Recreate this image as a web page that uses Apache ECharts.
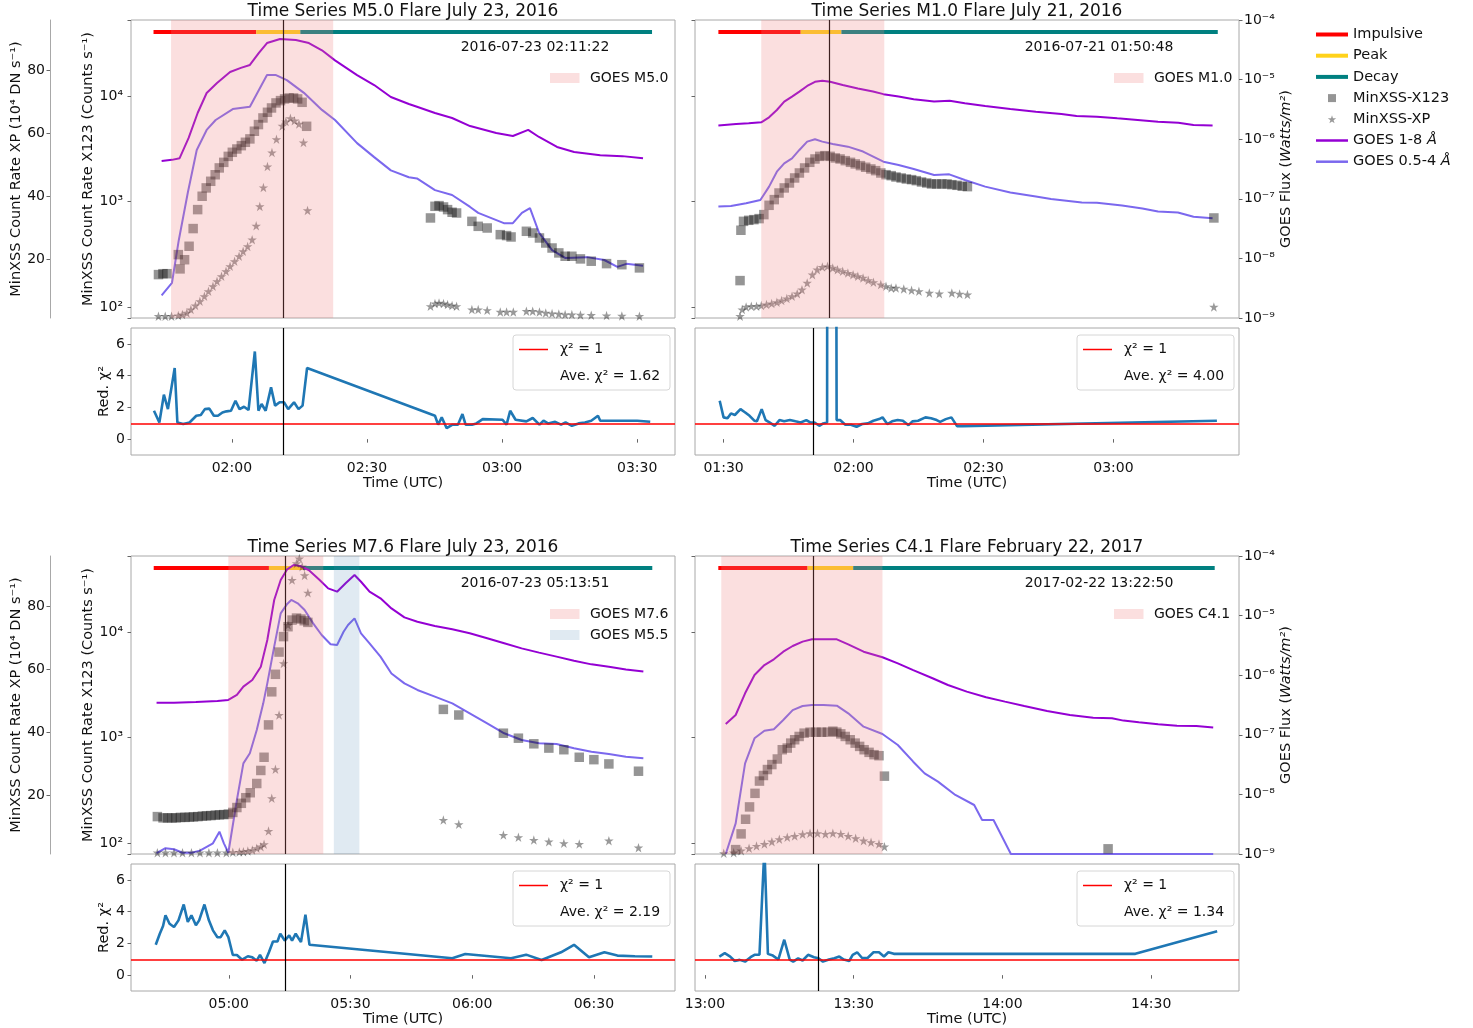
<!DOCTYPE html>
<html>
<head>
<meta charset="utf-8">
<script src="https://cdn.jsdelivr.net/npm/echarts@6/dist/echarts.min.js"></script>
<style>
  html, body { margin: 0; padding: 0; background: #fff; }
  #chart { width: 1473px; height: 1028px; }
</style>
</head>
<body>
<div id="chart"></div>
<script>
// times are minutes after 00:00 UTC of the flare day

// ---- M5.0, 2016-07-23 ----
var m50Title = 'Time Series M5.0 Flare July 23, 2016';
var m50Date = '2016-07-23 02:11:22';
var m50Ave = '1.62';
var m50Range = [97.6, 218.4];
var m50Phase = [102.6, 125.4, 135.2, 213.3];
var m50Spans = [[106.5, 142.5]];
var m50SpanLabels = ['GOES M5.0'];
var m50Peak = [131.37, 131.37];
var m50Goes18 = [[104.4,4.3e-7],[106.7,4.5e-7],[108.4,4.8e-7],[110.4,1.05e-6],[112.4,2.75e-6],[114.4,5.96e-6],[116.7,8.8e-6],[119.6,1.34e-5],[122.0,1.57e-5],[124.0,1.76e-5],[126.0,2.8e-5],[127.8,4.1e-5],[130.7,4.8e-5],[134.2,4.6e-5],[137.1,4.1e-5],[140.0,3.1e-5],[142.9,2.1e-5],[147.8,1.19e-5],[151.6,8.1e-6],[155.3,5.1e-6],[159.3,3.9e-6],[161.1,3.5e-6],[165.1,2.75e-6],[168.9,2.27e-6],[172.9,1.66e-6],[178.7,1.27e-6],[182.4,1.13e-6],[185.8,1.43e-6],[188.2,1.09e-6],[192.2,7.4e-7],[196.0,6.1e-7],[201.8,5.4e-7],[206.7,5.2e-7],[211.3,4.8e-7]];
var m50Goes054 = [[104.4,2.4e-9],[106.7,3.9e-9],[108.2,2.0e-8],[110.2,1.25e-7],[112.2,6.6e-7],[114.4,1.43e-6],[116.4,2.1e-6],[120.2,3.2e-6],[124.0,3.5e-6],[126.0,6.7e-6],[127.8,1.19e-5],[129.8,1.19e-5],[132.2,9.8e-6],[136.0,6.0e-6],[140.0,3.1e-6],[142.9,2.1e-6],[147.8,8.6e-7],[151.6,5.0e-7],[155.3,3.0e-7],[159.3,2.3e-7],[161.1,2.2e-7],[165.1,1.4e-7],[168.9,1.16e-7],[172.9,7.3e-8],[174.7,5.8e-8],[180.4,3.9e-8],[182.4,3.9e-8],[184.4,5.8e-8],[186.2,7.0e-8],[188.2,2.7e-8],[191.1,1.38e-8],[194.0,1.02e-8],[198.9,1.05e-8],[202.7,9.4e-9],[205.6,7.2e-9],[207.6,8.1e-9],[211.3,7.5e-9]];
var m50X123 = [[103.7,203],[104.7,207],[105.6,207],[108.1,314],[108.5,230],[109.5,281],[110.5,377],[111.4,555],[112.4,840],[113.4,1125],[114.3,1350],[115.3,1560],[116.3,1800],[117.2,2090],[118.2,2360],[119.2,2690],[120.1,2940],[121.1,3160],[122.1,3400],[123.0,3660],[124.0,3940],[125.0,4660],[125.9,5390],[126.9,6230],[127.9,7050],[128.8,7750],[129.8,8650],[130.8,9100],[131.7,9440],[132.7,9640],[133.7,9640],[134.6,9440],[135.6,8770],[136.6,5190],[164.1,700],[165.1,903],[166.0,917],[167.0,890],[167.9,840],[168.9,793],[169.9,780],[173.3,650],[174.7,583],[176.7,562],[179.6,486],[181.0,476],[182.0,462],[185.4,523],[186.8,504],[188.3,452],[189.7,405],[191.1,363],[192.6,326],[194.0,303],[195.5,303],[197.4,286],[199.8,272],[203.2,258],[206.6,252],[210.5,235]];
var m50XP = [[103.7,1.83],[105.2,1.83],[106.6,1.83],[108.1,2.04],[109.0,2.36],[110.0,2.89],[110.9,3.94],[111.9,5.21],[112.9,6.58],[113.9,8.17],[114.8,9.75],[115.8,11.34],[116.7,12.92],[117.7,14.51],[118.7,16.09],[119.6,17.68],[120.6,19.26],[121.6,20.85],[122.5,22.43],[123.5,24.01],[124.5,26.13],[125.4,30.56],[126.2,36.69],[127.0,42.71],[127.9,49.37],[128.9,53.8],[129.9,58.03],[131.2,62.25],[132.0,63.63],[133.0,64.68],[133.9,63.94],[134.9,62.89],[135.9,56.97],[136.8,35.42],[164.1,5.0],[165.1,5.85],[166.0,6.06],[167.0,5.85],[167.9,5.53],[168.9,5.21],[169.9,5.0],[173.3,3.94],[174.7,3.94],[176.7,3.73],[179.6,3.2],[181.0,3.2],[182.5,3.2],[185.4,3.42],[186.8,3.42],[188.3,3.2],[189.7,2.89],[191.1,2.68],[192.6,2.57],[194.0,2.36],[195.5,2.36],[197.4,2.25],[199.8,2.15],[203.2,2.04],[206.6,1.94],[210.5,1.83]];
var m50Chi2 = [[102.7,1.79],[103.9,1.05],[104.9,2.8],[105.8,1.89],[107.3,4.48],[107.9,1.05],[109.2,0.95],[110.6,1.05],[112.1,1.47],[113.1,1.52],[114.0,1.89],[115.0,1.92],[116.0,1.47],[116.9,1.47],[117.9,1.68],[118.8,1.75],[119.8,1.79],[120.8,2.42],[121.7,1.89],[122.7,2.04],[123.7,1.83],[125.1,5.52],[125.9,1.79],[126.6,2.21],[127.5,1.79],[128.7,3.26],[129.6,2.11],[130.6,2.32],[131.6,2.32],[132.5,1.89],[133.8,2.32],[134.8,1.89],[135.7,2.11],[136.7,4.48],[165.1,1.47],[165.8,0.91],[166.6,1.37],[167.7,0.69],[169.0,0.91],[170.2,0.91],[171.2,1.58],[171.9,0.91],[173.3,0.91],[174.3,0.99],[175.7,1.26],[180.1,1.22],[181.0,0.91],[181.8,1.79],[183.0,1.22],[185.4,1.12],[186.8,1.33],[188.3,0.91],[189.2,1.16],[190.2,0.99],[191.8,1.09],[193.1,0.91],[194.1,1.05],[195.5,0.84],[197.0,0.99],[198.4,1.05],[199.8,1.16],[201.3,1.47],[201.8,1.16],[207.1,1.16],[210.0,1.16],[212.9,1.09]];

// ---- M1.0, 2016-07-21 ----
var m10Title = 'Time Series M1.0 Flare July 21, 2016';
var m10Date = '2016-07-21 01:50:48';
var m10Ave = '4.00';
var m10Range = [83.4, 209.0];
var m10Phase = [88.8, 107.8, 117.2, 204.1];
var m10Spans = [[98.7, 127.1]];
var m10SpanLabels = ['GOES M1.0'];
var m10Peak = [114.5, 110.8];
var m10Goes18 = [[88.8,1.69e-6],[92.9,1.80e-6],[95.8,1.85e-6],[98.7,1.92e-6],[100.5,2.33e-6],[102.3,3.09e-6],[104.0,4.26e-6],[105.8,5.18e-6],[107.5,6.28e-6],[109.3,7.82e-6],[111.1,9.2e-6],[112.8,9.6e-6],[114.6,9.2e-6],[117.5,8.1e-6],[121.0,7.1e-6],[124.5,6.3e-6],[126.9,5.7e-6],[130.4,5.2e-6],[133.9,4.7e-6],[138.6,4.3e-6],[142.2,4.4e-6],[145.7,4.0e-6],[150.4,3.6e-6],[156.2,3.2e-6],[162.1,2.9e-6],[168.0,2.65e-6],[171.5,2.45e-6],[176.2,2.39e-6],[180.9,2.24e-6],[185.6,2.1e-6],[190.3,1.97e-6],[195.0,1.89e-6],[198.5,1.73e-6],[202.9,1.69e-6]];
var m10Goes054 = [[88.8,7.4e-8],[91.7,7.6e-8],[95.2,8.4e-8],[98.5,9.55e-8],[100.5,1.6e-7],[102.3,2.85e-7],[104.0,3.94e-7],[105.8,4.78e-7],[107.5,6.6e-7],[109.3,9.1e-7],[111.1,9.96e-7],[112.8,9.1e-7],[115.2,8.3e-7],[118.7,7.5e-7],[122.2,6.2e-7],[126.9,4.2e-7],[130.4,3.7e-7],[133.9,3.16e-7],[138.6,2.5e-7],[142.1,2.57e-7],[145.7,2.07e-7],[150.4,1.6e-7],[156.2,1.28e-7],[162.1,1.09e-7],[165.6,9.9e-8],[172.7,8.7e-8],[176.2,8.6e-8],[182.0,7.7e-8],[186.7,6.9e-8],[190.3,6.1e-8],[194.9,5.9e-8],[198.5,5.0e-8],[202.9,4.7e-8]];
var m10X123 = [[93.8,178],[94.0,535],[94.6,650],[95.8,665],[97.0,675],[98.2,690],[99.3,753],[100.5,923],[101.7,1045],[102.8,1208],[104.0,1349],[105.2,1504],[106.4,1678],[107.5,1871],[108.7,2088],[109.9,2362],[111.1,2541],[112.2,2692],[113.4,2733],[114.6,2692],[115.8,2600],[116.9,2541],[118.1,2449],[119.3,2362],[120.4,2281],[121.6,2198],[122.8,2120],[124.0,2043],[125.1,1969],[126.3,1871],[127.5,1803],[128.7,1765],[129.8,1714],[131.0,1678],[132.2,1640],[133.4,1618],[134.5,1582],[135.7,1537],[136.9,1504],[138.0,1472],[139.2,1472],[140.4,1472],[141.6,1472],[142.7,1449],[143.9,1429],[145.1,1400],[146.3,1388],[203.2,700]];
var m10XP = [[93.8,1.83],[94.3,3.94],[95.2,4.79],[96.4,5.0],[97.6,5.0],[98.7,5.21],[99.9,5.53],[101.1,5.85],[102.3,6.27],[103.4,6.8],[104.6,7.43],[105.8,8.17],[107.0,9.01],[108.1,10.28],[109.3,12.39],[110.5,15.04],[111.6,16.62],[112.8,17.46],[114.0,17.68],[115.2,17.15],[116.3,16.62],[117.5,16.09],[118.7,15.56],[119.9,15.04],[121.0,14.51],[122.2,13.98],[123.4,13.24],[124.6,12.61],[126.3,11.87],[127.5,11.34],[128.7,10.81],[129.8,10.81],[131.6,10.49],[133.4,10.07],[135.1,9.75],[137.5,9.23],[139.8,9.01],[142.7,9.23],[144.5,8.91],[146.3,8.7],[203.2,4.79]];
var m10Chi2 = [[89.1,2.42],[90.0,1.37],[90.9,1.31],[91.7,1.62],[92.6,1.52],[93.9,1.89],[95.0,1.68],[96.0,1.47],[97.1,1.16],[97.7,1.12],[98.8,1.89],[99.7,1.2],[100.6,1.05],[101.8,0.84],[102.9,1.2],[104.0,1.12],[105.3,1.2],[106.6,1.12],[107.8,1.05],[109.1,1.2],[110.0,1.05],[111.0,1.05],[112.1,0.84],[113.0,0.99],[113.9,1.05],[114.0,40],[115.8,40],[116.1,1.2],[116.9,1.2],[118.1,0.91],[119.4,0.91],[120.7,0.78],[122.0,0.95],[123.3,0.99],[124.6,1.16],[125.9,1.26],[126.7,1.37],[127.8,0.95],[128.9,1.12],[130.2,1.2],[131.4,1.16],[132.7,0.88],[133.6,1.12],[134.9,1.16],[136.6,1.37],[137.9,1.31],[139.2,1.2],[140.0,1.09],[141.3,1.26],[142.6,1.37],[143.9,0.82],[145.2,0.82],[203.9,1.16]];

// ---- M7.6, 2016-07-23 ----
var m76Title = 'Time Series M7.6 Flare July 23, 2016';
var m76Date = '2016-07-23 05:13:51';
var m76Ave = '2.19';
var m76Range = [275.9, 410.0];
var m76Phase = [281.5, 309.9, 318.3, 404.4];
var m76Spans = [[299.9, 323.3], [325.9, 332.2]];
var m76SpanLabels = ['GOES M7.6', 'GOES M5.5'];
var m76Peak = [313.85, 313.85];
var m76Goes18 = [[282.2,3.46e-7],[286.5,3.46e-7],[291.9,3.55e-7],[297.2,3.69e-7],[299.9,3.84e-7],[302.0,4.66e-7],[303.6,6.43e-7],[305.8,8.3e-7],[307.9,1.39e-6],[309.5,3.9e-6],[311.2,1.83e-5],[312.8,3.96e-5],[314.4,5.97e-5],[316.0,7.06e-5],[317.6,6.8e-5],[319.7,5.82e-5],[322.4,3.96e-5],[324.5,2.86e-5],[326.7,2.52e-5],[328.8,3.48e-5],[331.0,4.8e-5],[332.6,3.7e-5],[334.7,2.52e-5],[337.4,1.95e-5],[340.1,1.32e-5],[343.3,9.35e-6],[346.5,7.9e-6],[350.8,6.7e-6],[355.1,5.89e-6],[359.4,5.04e-6],[363.7,4.16e-6],[367.9,3.43e-6],[372.2,2.82e-6],[376.5,2.39e-6],[380.8,2.05e-6],[385.1,1.75e-6],[389.4,1.52e-6],[393.7,1.39e-6],[397.9,1.25e-6],[402.2,1.15e-6]];
var m76Goes054 = [[282.2,1.03e-9],[284.4,1.25e-9],[286.5,1.2e-9],[288.6,1.05e-9],[290.8,1.05e-9],[292.9,1.14e-9],[296.1,1.51e-9],[297.7,2.37e-9],[298.8,1.51e-9],[299.9,1.05e-9],[302.0,8.05e-9],[303.6,3.32e-8],[305.2,4.89e-8],[306.9,1.2e-7],[308.5,3.37e-7],[309.5,7.3e-7],[311.2,3.01e-6],[312.8,1.09e-5],[314.4,1.57e-5],[315.4,1.83e-5],[317.0,1.61e-5],[318.7,1.24e-5],[320.8,7.4e-6],[322.9,4.72e-6],[325.1,3.3e-6],[326.7,3.21e-6],[328.3,5.37e-6],[329.4,6.95e-6],[331.0,9.0e-6],[332.6,5.04e-6],[334.7,3.43e-6],[337.4,2.05e-6],[340.1,1.07e-6],[343.3,7.3e-7],[346.5,5.65e-7],[350.8,4.37e-7],[355.1,3.37e-7],[359.4,2.29e-7],[363.7,1.56e-7],[367.9,1.06e-7],[372.2,8.18e-8],[376.5,7.19e-8],[380.8,7.0e-8],[385.1,5.93e-8],[389.4,5.21e-8],[393.7,4.76e-8],[397.9,4.3e-8],[402.2,4.03e-8]];
var m76X123 = [[282.4,178],[283.8,173],[284.9,173],[286.0,173],[287.0,173],[288.1,175],[289.2,175],[290.3,176],[291.3,177],[292.4,178],[293.5,180],[294.5,181],[295.6,182],[296.7,184],[297.7,185],[298.8,186],[299.9,188],[301.0,195],[302.0,217],[303.1,238],[304.2,269],[305.3,300],[306.9,367],[307.9,488],[308.7,651],[309.8,1321],[310.6,2722],[311.5,3992],[312.4,6490],[313.5,9100],[314.6,11300],[315.6,13060],[316.7,13650],[317.8,13360],[318.6,12880],[319.5,12420],[352.9,1854],[356.7,1640],[367.7,1102],[371.4,988],[375.2,874],[378.9,796],[382.6,768],[386.4,651],[390.0,618],[393.7,563],[401.0,480]];
var m76XP = [[282.4,1.69],[284.4,1.69],[286.5,1.69],[288.6,1.69],[290.8,1.69],[292.9,1.69],[295.1,1.69],[297.2,1.69],[299.4,1.69],[301.0,1.8],[302.6,1.9],[303.6,2.01],[304.7,2.22],[305.8,2.54],[306.9,3.07],[307.9,3.6],[308.7,4.34],[309.8,8.57],[310.6,18.94],[311.5,28.15],[312.4,45.4],[313.5,61.8],[314.6,73.97],[315.6,88.25],[316.7,93.54],[317.4,95.1],[318.1,92.49],[318.7,89.74],[319.5,84.23],[352.9,12.06],[356.7,10.69],[367.7,7.3],[371.4,6.56],[375.2,5.71],[378.9,5.19],[382.6,4.66],[386.4,4.44],[393.7,5.5],[401.0,3.28]];
var m76Chi2 = [[282.0,1.91],[283.0,2.61],[283.8,3.09],[284.4,3.77],[285.4,3.24],[286.5,3.03],[287.6,3.45],[288.9,4.45],[289.9,3.35],[290.8,3.77],[291.9,3.14],[292.7,3.45],[294.0,4.45],[295.1,3.45],[296.1,2.82],[297.2,2.39],[298.0,2.39],[299.0,2.82],[299.9,2.39],[301.0,1.27],[302.0,1.27],[303.3,0.97],[304.7,1.19],[305.8,1.12],[306.9,0.91],[307.7,1.27],[308.8,0.76],[309.9,1.44],[310.9,2.12],[312.0,2.12],[312.7,2.61],[313.8,2.18],[314.9,2.5],[315.6,2.18],[316.5,2.61],[317.8,2.08],[318.9,3.81],[319.9,1.91],[355.1,1.06],[358.3,1.33],[369.6,1.06],[373.3,1.29],[377.1,0.95],[381.9,1.44],[385.1,1.91],[388.8,1.12],[392.6,1.44],[395.8,1.23],[400.1,1.19],[404.4,1.17]];

// ---- C4.1, 2017-02-22 ----
var c41Title = 'Time Series C4.1 Flare February 22, 2017';
var c41Date = '2017-02-22 13:22:50';
var c41Ave = '1.34';
var c41Range = [778.0, 887.7];
var c41Phase = [782.7, 800.7, 809.9, 882.8];
var c41Spans = [[783.3, 815.8]];
var c41SpanLabels = ['GOES C4.1'];
var c41Peak = [801.8, 802.83];
var c41Goes18 = [[784.2,1.52e-7],[786.2,2.15e-7],[788.1,4.97e-7],[790.0,1.01e-6],[792.0,1.48e-6],[793.9,1.85e-6],[795.8,2.48e-6],[797.7,3.09e-6],[799.7,3.66e-6],[801.6,4.0e-6],[803.9,4.0e-6],[806.6,4.0e-6],[808.9,3.3e-6],[812.0,2.48e-6],[815.8,2.0e-6],[818.9,1.58e-6],[822.0,1.22e-6],[825.9,8.9e-7],[829.0,6.85e-7],[832.8,5.3e-7],[836.7,4.26e-7],[840.5,3.6e-7],[844.4,3.04e-7],[849.0,2.51e-7],[853.6,2.15e-7],[858.3,1.94e-7],[862.1,1.89e-7],[864.4,1.73e-7],[867.5,1.62e-7],[871.4,1.5e-7],[875.2,1.42e-7],[879.1,1.41e-7],[882.5,1.33e-7]];
var c41Goes054 = [[784.2,1.0e-9],[786.2,3.27e-9],[788.1,3.32e-8],[790.0,8.73e-8],[792.0,1.17e-7],[793.9,1.24e-7],[795.8,1.77e-7],[797.7,2.6e-7],[799.7,3.04e-7],[801.6,3.16e-7],[803.9,3.16e-7],[806.6,3.08e-7],[808.9,2.29e-7],[812.0,1.37e-7],[815.8,1.03e-7],[818.9,6.74e-8],[822.0,3.54e-8],[824.3,2.25e-8],[827.0,1.64e-8],[830.5,9.78e-9],[834.3,6.64e-9],[835.9,3.72e-9],[838.2,3.72e-9],[841.7,1.0e-9],[852.1,1.0e-9],[882.5,1.0e-9]];
var c41X123 = [[786.2,86.5],[787.3,122],[788.2,168],[789.0,220],[790.1,296],[791.0,387],[791.8,437],[792.6,498],[793.5,555],[794.6,627],[795.6,768],[796.6,796],[797.3,887],[798.1,955],[799.0,1026],[800.0,1103],[801.2,1127],[802.4,1127],[803.5,1127],[804.7,1127],[805.8,1152],[806.6,1127],[807.4,1086],[808.3,1026],[809.3,955],[810.3,887],[811.2,826],[812.1,768],[813.1,725],[814.1,689],[815.1,674],[816.2,431],[861.3,88]];
var c41XP = [[783.8,1.48],[785.8,1.69],[787.3,2.33],[788.9,3.07],[790.4,3.81],[792.0,4.44],[793.5,5.19],[795.0,5.93],[796.6,6.56],[798.1,6.98],[799.7,7.51],[801.2,7.83],[802.7,7.83],[804.3,7.62],[805.8,7.83],[807.4,7.62],[808.9,6.98],[810.4,6.24],[812.0,5.5],[813.5,4.97],[815.1,4.44],[816.2,3.6]];
var c41Chi2 = [[782.9,1.17],[784.0,1.38],[785.1,1.17],[786.0,0.89],[787.0,0.96],[788.1,0.85],[789.2,1.13],[790.0,1.28],[791.0,1.28],[792.0,8.0],[792.7,1.34],[793.7,1.23],[794.8,0.98],[796.0,2.23],[797.1,0.98],[797.8,0.85],[798.8,1.06],[799.7,0.92],[800.8,1.28],[802.0,1.13],[802.9,1.06],[803.8,0.85],[805.0,0.98],[806.1,1.06],[807.1,1.17],[808.0,0.98],[809.1,0.89],[809.8,1.28],[810.7,1.44],[811.7,1.08],[812.8,1.08],[814.0,1.44],[815.1,1.44],[816.1,1.17],[817.0,1.44],[818.1,1.34],[866.8,1.34],[883.3,2.76]];

// axis limits, tick values and fixed levels
var x123Lim = [78.6, 53000];
var xpLim = [1.27, 95.9];
var xpTicks = [20, 40, 60, 80];
var goesLim = [1e-9, 1e-4];
var chiLim = [-1, 7];
var chiTicks = [0, 2, 4, 6];
var timeStep = 30; // minutes between time labels
var phaseLevel = 6.3e-5;
var legendNames = ['Impulsive', 'Peak', 'Decay', 'MinXSS-X123', 'MinXSS-XP', 'GOES 1-8 Å', 'GOES 0.5-4 Å'];

var FONT = 'DejaVu Sans';
var TXT = '#111';
var FRAME = '#a8a8a8';
var MIN = 60000;
var phaseColors = ['#ff0000', '#ffd21a', '#008080'];
var spanColors = ['rgba(240,128,128,0.25)', 'rgba(70,130,180,0.17)'];
var STAR = 'path://M12,0 L14.8,8.6 L23.8,8.6 L16.5,13.9 L19.3,22.5 L12,17.2 L4.7,22.5 L7.5,13.9 L0.2,8.6 L9.2,8.6 Z';
var legendIcons = {
  'Impulsive': 'path://M0,0H32V4H0Z',
  'Peak': 'path://M0,0H32V4H0Z',
  'Decay': 'path://M0,0H32V4H0Z',
  'MinXSS-X123': 'path://M0,0H10V10H0Z',
  'MinXSS-XP': STAR,
  'GOES 1-8 Å': 'path://M0,0H64V5H0Z',
  'GOES 0.5-4 Å': 'path://M0,0H64V5H0Z'
};

var panels = [
  {day: Date.UTC(2016, 6, 23), title: m50Title, date: m50Date, ave: m50Ave, range: m50Range, phase: m50Phase, spans: m50Spans, spanLabels: m50SpanLabels, peak: m50Peak, g18: m50Goes18, g054: m50Goes054, x123: m50X123, xp: m50XP, chi: m50Chi2},
  {day: Date.UTC(2016, 6, 21), title: m10Title, date: m10Date, ave: m10Ave, range: m10Range, phase: m10Phase, spans: m10Spans, spanLabels: m10SpanLabels, peak: m10Peak, g18: m10Goes18, g054: m10Goes054, x123: m10X123, xp: m10XP, chi: m10Chi2},
  {day: Date.UTC(2016, 6, 23), title: m76Title, date: m76Date, ave: m76Ave, range: m76Range, phase: m76Phase, spans: m76Spans, spanLabels: m76SpanLabels, peak: m76Peak, g18: m76Goes18, g054: m76Goes054, x123: m76X123, xp: m76XP, chi: m76Chi2},
  {day: Date.UTC(2017, 1, 22), title: c41Title, date: c41Date, ave: c41Ave, range: c41Range, phase: c41Phase, spans: c41Spans, spanLabels: c41SpanLabels, peak: c41Peak, g18: c41Goes18, g054: c41Goes054, x123: c41X123, xp: c41XP, chi: c41Chi2}
];

var SUP = {'0':'⁰','1':'¹','2':'²','3':'³','4':'⁴','5':'⁵','6':'⁶','7':'⁷','8':'⁸','9':'⁹','-':'⁻'};
function fmtPow(v) {
  var e = Math.log(v) / Math.LN10;
  var r = Math.round(e);
  if (Math.abs(e - r) > 1e-3) return '';
  return '10' + String(r).split('').map(function (c) { return SUP[c]; }).join('');
}
function pad(n) { return (n < 10 ? '0' : '') + n; }
function fmtTime(v) {
  var d = new Date(v);
  return pad(d.getUTCHours()) + ':' + pad(d.getUTCMinutes());
}
function toTs(day, arr) {
  return arr.map(function (d) { return [day + d[0] * MIN, d[1]]; });
}
function timeTicks(tMin, tMax) {
  var step = timeStep * MIN, out = [];
  for (var t = Math.ceil(tMin / step) * step; t <= tMax; t += step) out.push(t);
  return out;
}

// x axes are plain value axes holding epoch milliseconds; labels sit on half hours
function timeAxis(gi, tMin, tMax, shown) {
  var ticks = timeTicks(tMin, tMax);
  return {
    type: 'value', gridIndex: gi, min: tMin, max: tMax, show: shown, scale: true,
    splitLine: {show: false}, axisLine: {show: false},
    axisTick: {show: true, length: 3.5, customValues: ticks, lineStyle: {color: '#666'}},
    axisLabel: {customValues: ticks, formatter: fmtTime, fontSize: 14, color: TXT, margin: 6, hideOverlap: false},
    name: shown ? 'Time (UTC)' : '', nameLocation: 'middle', nameGap: 20,
    nameTextStyle: {fontSize: 14.5, color: TXT}
  };
}

function spanSeries(k, day, span, color) {
  return {
    type: 'custom', xAxisIndex: 2 * k, yAxisIndex: 4 * k + 2, z: 10, silent: true,
    data: [[day + span[0] * MIN, 1e-6, day + span[1] * MIN]],
    encode: {x: 0, y: 1},
    renderItem: function (params, api) {
      var a = api.coord([api.value(0), 1e-6]);
      var b = api.coord([api.value(2), 1e-6]);
      var cs = params.coordSys;
      return {type: 'rect', shape: {x: a[0], y: cs.y, width: b[0] - a[0], height: cs.height}, style: {fill: color}};
    }
  };
}

var option = {
  animation: false,
  backgroundColor: '#fff',
  textStyle: {fontFamily: FONT},
  grid: [], xAxis: [], yAxis: [], series: [], graphic: [],
  legend: {
    orient: 'vertical', left: 1311, top: 22, itemWidth: 32, itemHeight: 8, itemGap: 6.2,
    selectedMode: false, symbolKeepAspect: true,
    data: legendNames.map(function (n) { return {name: n, icon: legendIcons[n]}; }),
    textStyle: {fontSize: 14.5, color: TXT, fontFamily: FONT, rich: {i: {fontStyle: 'italic', fontSize: 14.5, color: TXT}}},
    formatter: function (name) { return name.replace('Å', '{i|Å}'); }
  }
};

panels.forEach(function (p, k) {
  var col = k % 2, row = Math.floor(k / 2), isLeft = col === 0;
  var dx = col * 564, dy = row * 536;
  var left = 131 + dx, top = 20 + dy;
  var tMin = p.day + p.range[0] * MIN, tMax = p.day + p.range[1] * MIN;

  option.grid.push({left: left, top: top, width: 544, height: 298, show: true, borderColor: FRAME, borderWidth: 1});
  option.grid.push({left: left, top: top + 308, width: 544, height: 127, show: true, borderColor: FRAME, borderWidth: 1});

  option.xAxis.push(timeAxis(2 * k, tMin, tMax, false));
  option.xAxis.push(timeAxis(2 * k + 1, tMin, tMax, true));

  // X123 count rate (log, left)
  option.yAxis.push({
    type: 'log', gridIndex: 2 * k, position: 'left', min: x123Lim[0], max: x123Lim[1],
    axisLine: {show: false}, splitLine: {show: false},
    axisTick: {show: true, length: 3.5, lineStyle: {color: '#666'}},
    axisLabel: {show: isLeft, formatter: fmtPow, fontSize: 14, color: TXT, margin: 8},
    name: isLeft ? 'MinXSS Count Rate X123 (Counts s⁻¹)' : '', nameLocation: 'middle', nameRotate: 90, nameGap: 32,
    nameTextStyle: {fontSize: 14.5, color: TXT}
  });
  // XP count rate (linear, outer left)
  option.yAxis.push({
    type: 'value', gridIndex: 2 * k, position: 'left', offset: 81, min: xpLim[0], max: xpLim[1],
    show: isLeft,
    axisLine: {show: true, lineStyle: {color: FRAME}}, splitLine: {show: false},
    axisTick: {show: true, length: 3.5, customValues: xpTicks, lineStyle: {color: '#666'}},
    axisLabel: {customValues: xpTicks, fontSize: 14, color: TXT, margin: 5},
    name: 'MinXSS Count Rate XP (10⁴ DN s⁻¹)', nameLocation: 'middle', nameRotate: 90, nameGap: 24,
    nameTextStyle: {fontSize: 14.5, color: TXT}
  });
  // GOES flux (log, right)
  option.yAxis.push({
    type: 'log', gridIndex: 2 * k, position: 'right', min: goesLim[0], max: goesLim[1],
    axisLine: {show: false}, splitLine: {show: false},
    axisTick: {show: !isLeft, length: 3.5, lineStyle: {color: '#666'}},
    axisLabel: {show: !isLeft, formatter: fmtPow, fontSize: 14, color: TXT, margin: 5},
    name: isLeft ? '' : 'GOES Flux ({i|Watts/m²})', nameLocation: 'middle', nameRotate: 90, nameGap: 40,
    nameTextStyle: {fontSize: 14.5, color: TXT, rich: {i: {fontStyle: 'italic', fontSize: 14.5, color: TXT}}}
  });
  // reduced chi-square
  option.yAxis.push({
    type: 'value', gridIndex: 2 * k + 1, min: chiLim[0], max: chiLim[1],
    axisLine: {show: false}, splitLine: {show: false},
    axisTick: {show: isLeft, length: 3.5, customValues: chiTicks, lineStyle: {color: '#666'}},
    axisLabel: {show: isLeft, customValues: chiTicks, fontSize: 14, color: TXT, margin: 6},
    name: isLeft ? 'Red. χ²' : '', nameLocation: 'middle', nameRotate: 90, nameGap: 18,
    nameTextStyle: {fontSize: 14.5, color: TXT}
  });

  var xi = 2 * k, yX = 4 * k, yP = 4 * k + 1, yG = 4 * k + 2, yC = 4 * k + 3;

  // flare phase bars
  ['Impulsive', 'Peak', 'Decay'].forEach(function (nm, j) {
    option.series.push({
      name: nm, type: 'line', xAxisIndex: xi, yAxisIndex: yG, symbol: 'none', silent: true, z: 2,
      color: phaseColors[j], lineStyle: {width: 4, color: phaseColors[j]},
      data: toTs(p.day, [[p.phase[j], phaseLevel], [p.phase[j + 1], phaseLevel]])
    });
  });

  option.series.push({
    name: 'GOES 0.5-4 Å', type: 'line', xAxisIndex: xi, yAxisIndex: yG, symbol: 'none', z: 2,
    color: '#7b68ee', lineStyle: {width: 2, color: '#7b68ee'}, data: toTs(p.day, p.g054)
  });
  option.series.push({
    name: 'GOES 1-8 Å', type: 'line', xAxisIndex: xi, yAxisIndex: yG, symbol: 'none', z: 2,
    color: '#9400d3', lineStyle: {width: 2, color: '#9400d3'}, data: toTs(p.day, p.g18),
    markLine: {silent: true, symbol: 'none', label: {show: false}, lineStyle: {color: '#000', width: 1.2, type: 'solid'},
      data: [{xAxis: p.day + p.peak[0] * MIN}]}
  });
  option.series.push({
    name: 'MinXSS-X123', type: 'scatter', xAxisIndex: xi, yAxisIndex: yX, symbol: 'rect', symbolSize: 9.5, z: 3,
    itemStyle: {color: 'rgba(0,0,0,0.52)'}, data: toTs(p.day, p.x123)
  });
  option.series.push({
    name: 'MinXSS-XP', type: 'scatter', xAxisIndex: xi, yAxisIndex: yP, symbol: STAR, symbolSize: 9.5, z: 3,
    itemStyle: {color: 'rgba(0,0,0,0.5)'}, data: toTs(p.day, p.xp)
  });

  p.spans.forEach(function (s, j) {
    option.series.push(spanSeries(k, p.day, s, spanColors[j]));
  });

  option.series.push({
    name: 'chi2', type: 'line', xAxisIndex: xi + 1, yAxisIndex: yC, symbol: 'none', z: 2,
    color: '#1f77b4', lineStyle: {width: 2.6, color: '#1f77b4'}, data: toTs(p.day, p.chi),
    markLine: {silent: true, symbol: 'none', label: {show: false},
      data: [
        {yAxis: 1, lineStyle: {color: '#ff0000', width: 1.5, type: 'solid'}},
        {xAxis: p.day + p.peak[1] * MIN, lineStyle: {color: '#000', width: 1.2, type: 'solid'}}
      ]}
  });

  // titles, dates, in-plot legends
  var g = option.graphic;
  g.push({type: 'text', z: 100, x: 403 + dx, y: 12 + dy,
    style: {text: p.title, font: '17px "DejaVu Sans"', fill: TXT, textAlign: 'center', textVerticalAlign: 'middle'}});
  g.push({type: 'text', z: 100, x: 535 + dx, y: 47.5 + dy,
    style: {text: p.date, font: '14px "DejaVu Sans"', fill: TXT, textAlign: 'center', textVerticalAlign: 'middle'}});
  p.spanLabels.forEach(function (lab, j) {
    g.push({type: 'rect', z: 100, shape: {x: 550 + dx, y: 73 + dy + j * 21, width: 29.5, height: 10},
      style: {fill: spanColors[j]}});
    g.push({type: 'text', z: 100, x: 590 + dx, y: 78 + dy + j * 21,
      style: {text: lab, font: '14px "DejaVu Sans"', fill: TXT, textAlign: 'left', textVerticalAlign: 'middle'}});
  });
  g.push({type: 'rect', z: 100, shape: {x: 513 + dx, y: 335 + dy, width: 157, height: 55, r: 3},
    style: {fill: 'rgba(255,255,255,0.85)', stroke: '#d6d6d6', lineWidth: 1}});
  g.push({type: 'line', z: 101, shape: {x1: 519 + dx, y1: 349.5 + dy, x2: 548 + dx, y2: 349.5 + dy},
    style: {stroke: '#ff0000', lineWidth: 1.5}});
  g.push({type: 'text', z: 101, x: 560 + dx, y: 349.5 + dy,
    style: {text: 'χ² = 1', font: '14px "DejaVu Sans"', fill: TXT, textAlign: 'left', textVerticalAlign: 'middle'}});
  g.push({type: 'text', z: 101, x: 560 + dx, y: 376 + dy,
    style: {text: 'Ave. χ² = ' + p.ave, font: '14px "DejaVu Sans"', fill: TXT, textAlign: 'left', textVerticalAlign: 'middle'}});
});

var chart = echarts.init(document.getElementById('chart'), null, {renderer: 'canvas'});
chart.setOption(option);
</script>
</body>
</html>
